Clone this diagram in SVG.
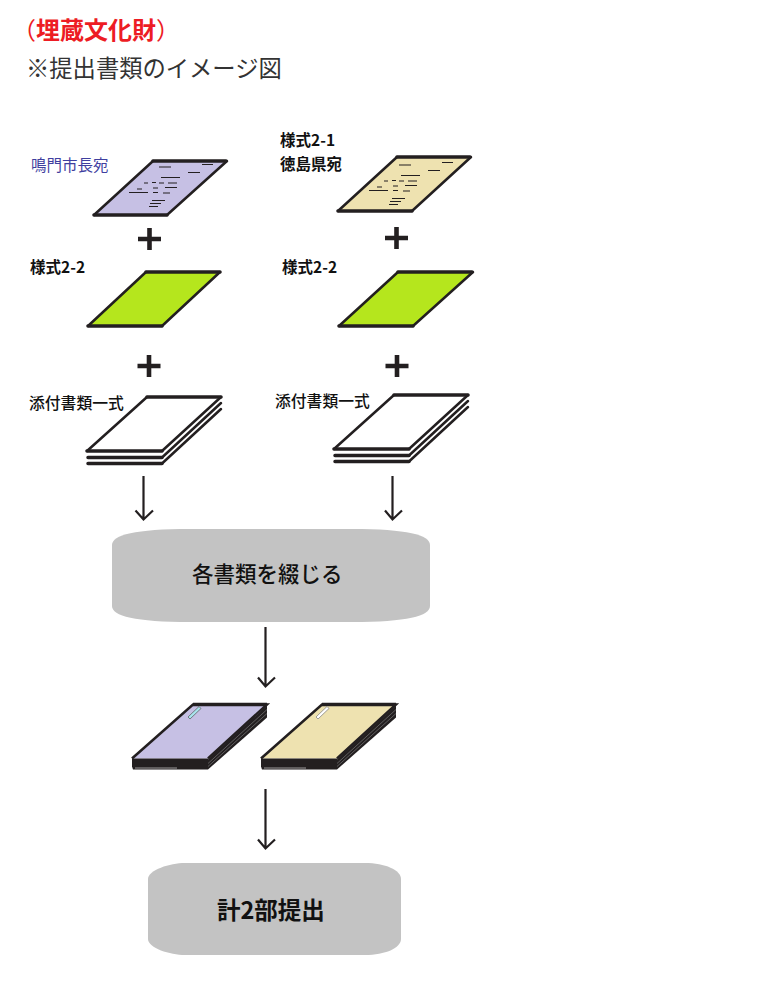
<svg xmlns="http://www.w3.org/2000/svg" width="764" height="996" viewBox="0 0 764 996">
<style>
text{font-family:"Noto Sans CJK JP","Noto Sans CJK SC",sans-serif;fill:#111}
.lbl{font-size:15.500px;font-weight:700}
.lbl2{font-size:15.800px;font-weight:500}
.side{stroke:#231f20;stroke-width:2.5;fill:none;stroke-linecap:round}
.edge{stroke:#231f20;stroke-width:3.5;fill:none;stroke-linecap:round}
.thin{stroke:#231f20;stroke-width:1;fill:none}
.conn{stroke:#231f20;stroke-width:2.2;fill:none}
.plus{fill:#231f20}
.gray{fill:#c3c3c3}
</style>
<defs>
<g id="dashes">
<path class="thin" d="M159 167h12M202 164.500h11M188 172.500h12M161 177.500h19M144 183h4M152 182.500h4M159 183h5M168 183h9M137 189h5M153 188h5M165 187.500h12M129 192.500h19M153 192.500h5M163 193h7M152 200.500h13M150 203.500h11M149 206.500h9"/>
</g>
<path id="plusmark" class="plus" d="M-2.300 -11H2.300V-2.300H11.500V2.300H2.300V11H-2.300V2.300H-11.500V-2.300H-2.300Z"/>
<g id="stack">
<path d="M60 0H134L75 54H0Z" fill="#fff"/>
<path class="side" d="M0 54L60 0M75 54L134 0M75 60.500L134 6M75 66.500L134 12"/>
<path class="edge" d="M60 0H134M0 54H75M1 60.500H75M1 66.500H75"/>
</g>
<g id="book">
<path d="M61 0H135L76 54H0Z" fill="var(--paper)"/>
<path d="M0 54H76V65H1L0 62Z" fill="#231f20"/>
<path d="M3 63.500H45" stroke="#bbb" stroke-width="0.800"/>
<path d="M76 55L135 1V13L76 65Z" fill="#231f20"/>
<path d="M76 59L135 5M76 62L135 9" stroke="#888" stroke-width="0.600"/>
<path d="M0 54L61 0H135L76 54" fill="none" stroke="#231f20" stroke-width="2.500"/>
<path d="M61 0H135" stroke="#231f20" stroke-width="3.500"/>
</g>
</defs>
<g id="title">
<text x="12" y="39" style="font-size:24px;font-weight:700;fill:#ed1c24"><tspan font-weight="400">（</tspan>埋蔵文化財<tspan font-weight="400">）</tspan></text>
<text x="26" y="77" style="font-size:23.300px;font-weight:400;fill:#333">※提出書類のイメージ図</text>
</g>
<g id="node-sheet-naruto">
<text x="31" y="171" style="font-size:15.500px;fill:#3f3f9f">鳴門市長宛</text>
<path d="M153 161H227L167 215H94Z" fill="#c6c0e4"/>
<path class="side" d="M94 215L153 161M167 215L227 161"/>
<path class="edge" d="M153 161H226M94 215H167"/>
<use href="#dashes"/>
</g>
<g id="node-sheet-tokushima">
<text class="lbl" x="280" y="146">様式2-1</text>
<text class="lbl" x="280" y="170">徳島県宛</text>
<path d="M397 157H471L412 211H338Z" fill="#eee2b0"/>
<path class="side" d="M338 211L397 157M412 211L471 157"/>
<path class="edge" d="M397 157H470M338 211H412"/>
<use href="#dashes" transform="translate(240 -2)"/>
</g>
<g id="plus-1"><use href="#plusmark" x="149.500" y="239"/></g>
<g id="plus-2"><use href="#plusmark" x="396.500" y="238"/></g>
<g id="node-form-left">
<text class="lbl" x="30" y="273">様式2-2</text>
<path d="M146 272H220L162 326H88Z" fill="#b5e61d"/>
<path class="side" d="M88 326L146 272M162 326L220 272"/>
<path class="edge" d="M146 272H220M88 326H162"/>
</g>
<g id="node-form-right">
<text class="lbl" x="282" y="273">様式2-2</text>
<path d="M398 272H473L413 326H339Z" fill="#b5e61d"/>
<path class="side" d="M339 326L398 272M413 326L473 272"/>
<path class="edge" d="M398 272H472M339 326H413"/>
</g>
<g id="plus-3"><use href="#plusmark" x="149" y="366"/></g>
<g id="plus-4"><use href="#plusmark" x="397" y="366"/></g>
<g id="node-attach-left">
<text class="lbl2" x="29" y="409">添付書類一式</text>
<use href="#stack" x="87" y="397"/>
</g>
<g id="node-attach-right">
<text class="lbl2" x="275" y="407">添付書類一式</text>
<use href="#stack" x="334" y="395"/>
</g>
<g id="connectors">
<path class="conn" d="M143.500 476V519M135.500 510.500L143.500 519.500L153 510.500"/>
<path class="conn" d="M392.500 476V519M385 510.500L392.500 519.500L402 510.500"/>
<path class="conn" d="M265.500 627V686M258 677.500L265.500 686.500L275 677.500"/>
<path class="conn" d="M265.500 789V848M258 839.500L265.500 848.500L275 839.500"/>
</g>
<g id="node-bind">
<path class="gray" d="M112 545C112 535 135 529 190 529H352C407 529 430 535 430 545V606C430 616 407 622 352 622H190C135 622 112 616 112 606Z"/>
<text x="192" y="582" style="font-size:21.500px;font-weight:500">各書類を綴じる</text>
</g>
<g id="node-book-left">
<use href="#book" x="132" y="704.500" style="--paper:#c6c0e4"/>
<path d="M188 717L199 706.500L201 708.500L190 719Z" fill="#a8e4ec" stroke="#555" stroke-width="0.700"/>
</g>
<g id="node-book-right">
<use href="#book" x="261" y="704.500" style="--paper:#eee2b0"/>
<path d="M316 717L327 706.500L329 708.500L318 719Z" fill="#fff" stroke="#777" stroke-width="0.700"/>
</g>
<g id="node-submit">
<path class="gray" d="M148 879C148 870 170 863 185 863H365C385 863 401 870 401 879V939C401 948 385 955 365 955H185C170 955 148 948 148 939Z"/>
<text x="217" y="919" style="font-size:23.500px;font-weight:700">計2部提出</text>
</g>
</svg>
